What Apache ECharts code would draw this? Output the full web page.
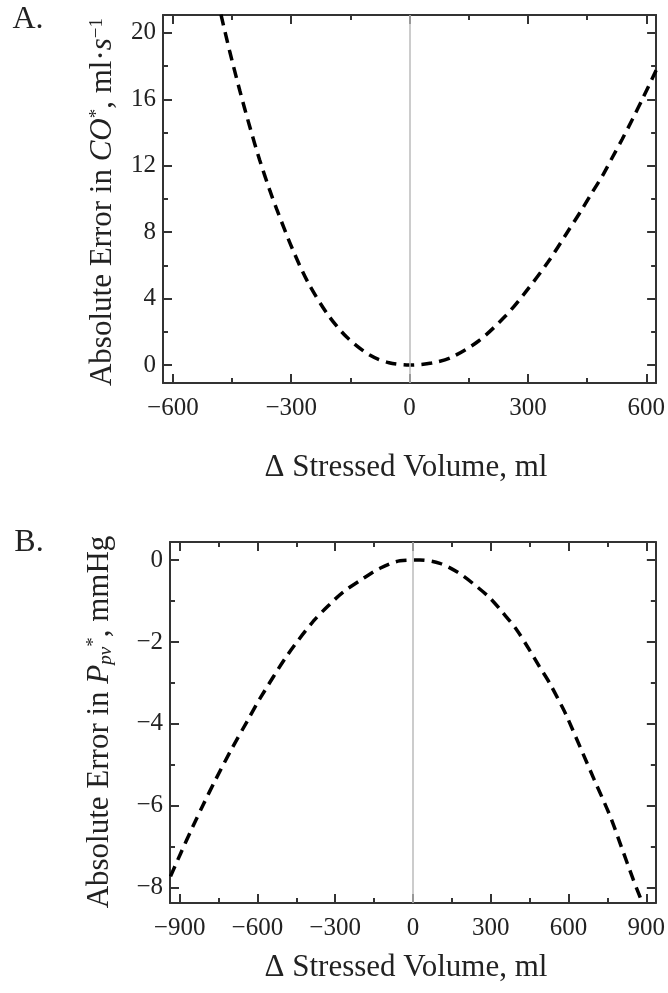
<!DOCTYPE html>
<html>
<head>
<meta charset="utf-8">
<script src="https://cdn.jsdelivr.net/npm/echarts@6/dist/echarts.min.js"></script>
<style>
html,body{margin:0;padding:0;background:#fff;}
#chart{width:668px;height:993px;}
</style>
</head>
<body>
<div id="chart"></div>
<script>
// Panel A data: Δ stressed volume (ml) vs absolute error in CO*
const volA = [-478,-456,-430,-405,-380,-354,-337,-297,-258,-209,-160,-101,-52,0,56,105,175,243,291,351,400,439,463,489,514,539,565,590,620,625];
const errA = [21.1,18.9,16.5,14.35,12.35,10.5,9.4,7.0,5.0,3.1,1.7,0.6,0.14,0,0.12,0.45,1.45,2.95,4.3,6.2,8.0,9.45,10.4,11.4,12.5,13.6,14.8,16.0,17.5,17.75];
// Panel B data: Δ stressed volume (ml) vs absolute error in Ppv*
const volB = [-935,-896,-850,-808,-762,-700,-638,-588,-485,-385,-319,-269,-192,-127,-50,27,104,173,231,296,346,400,450,488,527,577,596,700,762,804,850,881];
const errB = [-7.72,-7.16,-6.52,-5.96,-5.37,-4.62,-3.92,-3.36,-2.33,-1.5,-1.07,-0.78,-0.45,-0.2,-0.02,0,-0.08,-0.3,-0.57,-0.92,-1.28,-1.7,-2.2,-2.6,-3.0,-3.6,-3.85,-5.37,-6.27,-7.0,-7.8,-8.3];

// Tick values
const xMajorA = [-600,-300,0,300,600];
const xMinorA = [-450,-150,150,450];
const yMajorA = [0,4,8,12,16,20];
const yMinorA = [2,6,10,14,18];
const xMajorB = [-900,-600,-300,0,300,600,900];
const xMinorB = [-750,-450,-150,150,450,750];
const yMajorB = [0,-2,-4,-6,-8];
const yMinorB = [-1,-3,-5,-7];

const F = 'Liberation Serif';
const AX = '#333';
const fmt = v => v < 0 ? '\u2212' + Math.abs(v) : String(v);

function mkAxes(kind, grid, min, max, major, minor) {
  const pos = kind === 'x' ? ['bottom','top'] : ['left','right'];
  const out = [];
  pos.forEach((p, k) => {
    out.push({
      type:'value', gridIndex:grid, position:p, min:min, max:max,
      axisLine:{show:true, onZero:false, lineStyle:{color:AX, width:2}},
      axisTick:{show:true, inside:true, length:9, customValues:major, lineStyle:{color:AX, width:2}},
      axisLabel:{show:k===0, customValues:major, formatter:fmt, fontFamily:F, fontSize:25, color:'#222', margin: kind==='x' ? 13 : 7},
      splitLine:{show:false}
    });
    out.push({
      type:'value', gridIndex:grid, position:p, min:min, max:max,
      axisLine:{show:false, onZero:false},
      axisTick:{show:true, inside:true, length:5, customValues:minor, lineStyle:{color:AX, width:2}},
      axisLabel:{show:false},
      splitLine:{show:false}
    });
  });
  return out;
}

const xAxes = mkAxes('x', 0, -625, 625, xMajorA, xMinorA).concat(mkAxes('x', 1, -937, 937, xMajorB, xMinorB));
const yAxes = mkAxes('y', 0, -1.08, 21.08, yMajorA, yMinorA).concat(mkAxes('y', 1, -8.37, 0.44, yMajorB, yMinorB));

const zeroLine = {
  silent:true, symbol:['none','none'], label:{show:false},
  lineStyle:{color:'#bbb', width:1.5, type:'solid'},
  data:[{xAxis:0}]
};
const curveStyle = {color:'#000', width:3.5, type:[11,7], cap:'butt'};

const rich = {
  n:{fontFamily:F, fontSize:31, color:'#222'},
  i:{fontFamily:F, fontSize:31, color:'#222', fontStyle:'italic'},
  sup:{fontFamily:F, fontSize:19, color:'#222', verticalAlign:'top'},
  subi:{fontFamily:F, fontSize:19, color:'#222', fontStyle:'italic', verticalAlign:'bottom'}
};

function gtext(x, y, text, size, rot, useRich) {
  const st = {text:text, fontFamily:F, fontSize:size, fill:'#222',
    textAlign:'center', textVerticalAlign:'middle', align:'center', verticalAlign:'middle'};
  if (useRich) st.rich = rich;
  return {type:'text', x:x, y:y, rotation:rot, style:st, silent:true};
}

const option = {
  animation:false,
  backgroundColor:'#fff',
  grid:[
    {left:163, top:15, width:494, height:368},
    {left:170, top:542, width:487, height:361}
  ],
  xAxis:xAxes,
  yAxis:yAxes,
  series:[
    {type:'line', xAxisIndex:0, yAxisIndex:0, showSymbol:false, smooth:0.3,
     data:volA.map((v,i)=>[v, errA[i]]), lineStyle:curveStyle, markLine:zeroLine, z:3},
    {type:'line', xAxisIndex:4, yAxisIndex:4, showSymbol:false, smooth:0.3,
     data:volB.map((v,i)=>[v, errB[i]]), lineStyle:curveStyle, markLine:zeroLine, z:3}
  ],
  graphic:[
    gtext(28, 20, 'A.', 32, 0, false),
    gtext(29, 543, 'B.', 32, 0, false),
    gtext(406, 468, '\u0394 Stressed Volume, ml', 31, 0, false),
    gtext(406, 968, '\u0394 Stressed Volume, ml', 31, 0, false),
    gtext(103, 202, '{n|Absolute Error in }{i|CO}{sup|*}{n|, ml\u00b7}{i|s}{sup|\u22121}', 31, Math.PI/2, true),
    gtext(100, 722, '{n|Absolute Error in }{i|P}{subi|pv}{sup|*}{n|, mmHg}', 31, Math.PI/2, true)
  ]
};

const chart = echarts.init(document.getElementById('chart'), null, {renderer:'canvas'});
chart.setOption(option);
</script>
</body>
</html>
